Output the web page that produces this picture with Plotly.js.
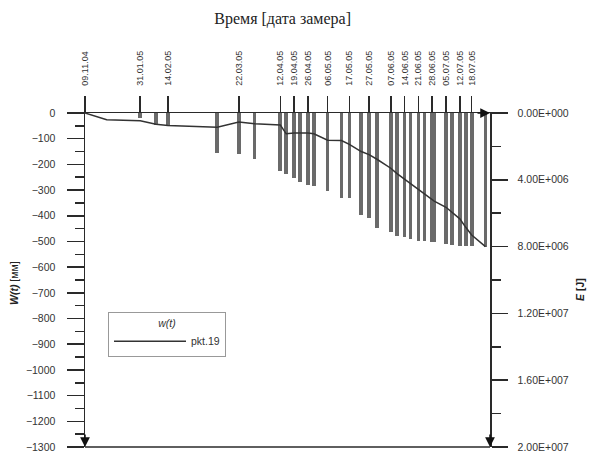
<!DOCTYPE html>
<html>
<head>
<meta charset="utf-8">
<script src="https://cdn.plot.ly/plotly-3.0.1.min.js"></script>
<style>html,body{margin:0;padding:0;background:#fff;}#chart{width:589px;height:458px;}</style>
</head>
<body>
<div id="chart"></div>
<script>
// Measurement dates (line w(t), pkt.19)
var measureDates = ['2004-11-09','2004-11-20','2005-01-31','2005-02-08','2005-02-14','2005-03-11','2005-03-22','2005-03-30',
  '2005-04-12','2005-04-15','2005-04-19','2005-04-22','2005-04-26','2005-04-29','2005-05-06','2005-05-13','2005-05-17',
  '2005-05-23','2005-05-27','2005-05-31','2005-06-07','2005-06-10','2005-06-14','2005-06-17','2005-06-21','2005-06-24',
  '2005-06-28','2005-06-29','2005-07-05','2005-07-08','2005-07-12','2005-07-15','2005-07-18','2005-07-25'];
// Subsidence W(t) [мм]
var wValues = [0,-26,-30,-44,-49,-55,-35,-42,
  -47,-81,-78,-78,-78,-81,-106,-107,-122,
  -150,-162,-180,-215,-235,-258,-275,-298,-315,
  -335,-343,-367,-385,-412,-445,-475,-520];
// Cumulative energy E [J] (bars)
var eDates = ['2005-01-31','2005-02-08','2005-02-14','2005-03-11','2005-03-22','2005-03-30',
  '2005-04-12','2005-04-15','2005-04-19','2005-04-22','2005-04-26','2005-04-29','2005-05-06','2005-05-13','2005-05-17',
  '2005-05-23','2005-05-27','2005-05-31','2005-06-07','2005-06-10','2005-06-14','2005-06-17','2005-06-21','2005-06-24',
  '2005-06-28','2005-06-29','2005-07-05','2005-07-08','2005-07-12','2005-07-15','2005-07-18','2005-07-25'];
var eValues = [3.0e5,7.3e5,7.4e5,2.38e6,2.48e6,2.78e6,
  3.46e6,3.63e6,3.91e6,4.13e6,4.33e6,4.37e6,4.70e6,5.06e6,5.10e6,
  6.13e6,6.27e6,6.90e6,7.11e6,7.35e6,7.45e6,7.52e6,7.64e6,7.69e6,
  7.74e6,7.74e6,7.86e6,7.88e6,7.94e6,7.94e6,7.94e6,8.04e6];
// Top axis date ticks
var tickDates = ['2004-11-09','2005-01-31','2005-02-14','2005-03-22','2005-04-12','2005-04-19','2005-04-26','2005-05-06',
  '2005-05-17','2005-05-27','2005-06-07','2005-06-14','2005-06-21','2005-06-28','2005-07-05','2005-07-12','2005-07-18'];
var tickLabels = ['09.11.04','31.01.05','14.02.05','22.03.05','12.04.05','19.04.05','26.04.05','06.05.05',
  '17.05.05','27.05.05','07.06.05','14.06.05','21.06.05','28.06.05','05.07.05','12.07.05','18.07.05'];
// Energy axis ticks
var eTickVals = [0,4e6,8e6,1.2e7,1.6e7,2e7];
var eTickText = ['0.00E+000','4.00E+006','8.00E+006','1.20E+007','1.60E+007','2.00E+007'];

var axCol = '#2a2a2a';
var txtCol = '#333';
var tickFont = {family:'Liberation Sans, Arial, sans-serif', size:10.5, color:txtCol};

var traces = [
  {type:'bar', x:eDates, y:eValues, base:0, yaxis:'y', xaxis:'x',
   width:1.6e8, marker:{color:'#6a6a6a', line:{width:0}}, showlegend:false, hoverinfo:'skip'},
  {type:'scatter', mode:'lines', x:measureDates, y:wValues, yaxis:'y2', xaxis:'x',
   name:'pkt.19', line:{color:'#333', width:1.5}}
];

var layout = {
  width:589, height:458,
  margin:{l:85, r:99, t:113, b:11},
  paper_bgcolor:'#fff', plot_bgcolor:'rgba(0,0,0,0)',
  font:{family:'Liberation Sans, Arial, sans-serif', color:txtCol},
  title:{text:'Время [дата замера]', font:{family:'Liberation Serif, Times New Roman, serif', size:16, color:'#222'},
         x:0.488, xanchor:'center', xref:'paper', y:1-18/458, yanchor:'middle', yref:'container'},
  bargap:0,
  xaxis:{type:'date', side:'top', range:['2004-11-09','2005-07-27 07:00'],
         rangebreaks:[{bounds:['2004-11-21','2005-01-15']}],
         tickmode:'array', tickvals:tickDates, ticktext:tickLabels, tickangle:-90,
         ticks:'outside', ticklen:16, tickwidth:1.5, tickcolor:axCol,
         ticklabelstandoff:8,
         showline:true, linecolor:axCol, linewidth:1.5, showgrid:false, zeroline:false,
         tickfont:{family:'Liberation Sans, Arial, sans-serif', size:9, color:txtCol}, fixedrange:true},
  yaxis:{range:[2e7,0], side:'right', anchor:'x',
         tickmode:'array', tickvals:eTickVals, ticktext:eTickText,
         ticks:'outside', ticklen:16, tickwidth:1.5, tickcolor:axCol,
         minor:{tickmode:'linear', tick0:0, dtick:2e6, ticks:'outside', ticklen:9, tickwidth:1.5, tickcolor:axCol},
         ticklabelstandoff:8,
         showline:true, linecolor:axCol, linewidth:1.5, showgrid:false, zeroline:false,
         tickfont:tickFont},
  yaxis2:{range:[-1300,0], side:'left', overlaying:'y', anchor:'x',
         tickmode:'linear', tick0:0, dtick:100,
         ticks:'outside', ticklen:17, tickwidth:1.5, tickcolor:axCol,
         minor:{tickmode:'linear', tick0:0, dtick:50, ticks:'outside', ticklen:9, tickwidth:1.5, tickcolor:axCol},
         ticklabelstandoff:9,
         showline:true, linecolor:axCol, linewidth:1.5, showgrid:false, zeroline:false,
         tickfont:tickFont},
  showlegend:true,
  legend:{x:(108-85)/405, y:(447-312)/334, xanchor:'left', yanchor:'top',
          bgcolor:'#fff', bordercolor:'#999', borderwidth:1,
          font:{family:'Liberation Sans, Arial, sans-serif', size:10.5, color:txtCol},
          title:{text:'<i>w(t)</i>', side:'top center', font:{size:10.5, color:txtCol}},
          itemwidth:72},
  shapes:[
    {type:'line', xref:'paper', yref:'paper', x0:0, x1:1, y0:0, y1:0, line:{color:axCol, width:1.5}}
  ],
  annotations:[
    {xref:'paper', yref:'paper', x:1, y:1, ax:-14, ay:0, text:'', showarrow:true, arrowhead:2, arrowsize:1.3, arrowwidth:1.5, arrowcolor:'#111', standoff:0},
    {xref:'paper', yref:'paper', x:0, y:0, ax:0, ay:-14, text:'', showarrow:true, arrowhead:2, arrowsize:1.3, arrowwidth:1.5, arrowcolor:'#111', standoff:0},
    {xref:'paper', yref:'paper', x:1, y:0, ax:0, ay:-14, text:'', showarrow:true, arrowhead:2, arrowsize:1.3, arrowwidth:1.5, arrowcolor:'#111', standoff:0},
    {xref:'paper', yref:'paper', x:(14-85)/405, y:(447-283)/334, text:'<b><i>W(t)</i></b> [мм]', textangle:-90, showarrow:false,
     xanchor:'center', yanchor:'middle', font:{family:'Liberation Sans, Arial, sans-serif', size:10.5, color:'#222'}},
    {xref:'paper', yref:'paper', x:(580-85)/405, y:(447-290)/334, text:'<b><i>E</i></b> <b>[J]</b>', textangle:-90, showarrow:false,
     xanchor:'center', yanchor:'middle', font:{family:'Liberation Sans, Arial, sans-serif', size:10.5, color:'#222'}}
  ]
};

Plotly.newPlot('chart', traces, layout, {staticPlot:true, displayModeBar:false});
</script>
</body>
</html>
